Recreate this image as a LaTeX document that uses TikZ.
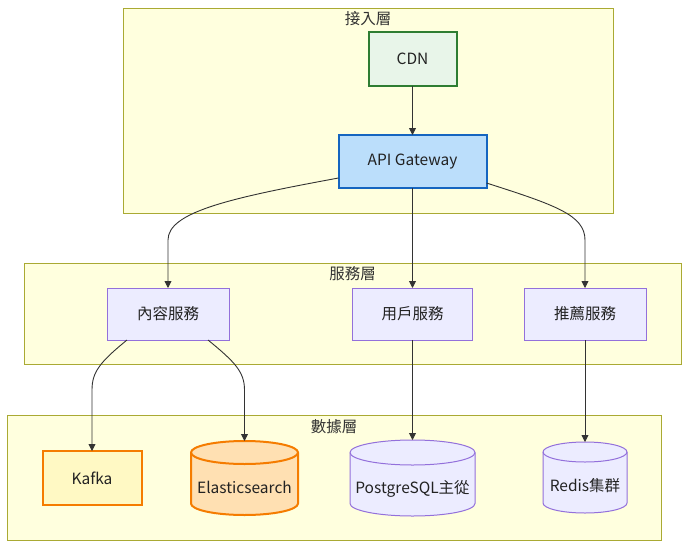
\documentclass[tikz,border=0pt]{standalone}
\usepackage{fontspec}
\setmainfont{Noto Sans CJK TC}
\usetikzlibrary{arrows.meta}
\definecolor{layerfill}{HTML}{FFFFDE}
\definecolor{layerdraw}{HTML}{AAAA33}
\definecolor{svcfill}{HTML}{ECECFF}
\definecolor{svcdraw}{HTML}{9370DB}
\definecolor{cdnfill}{HTML}{E8F5E9}
\definecolor{cdndraw}{HTML}{2E7D32}
\definecolor{apifill}{HTML}{BBDEFB}
\definecolor{apidraw}{HTML}{1565C0}
\definecolor{kafkafill}{HTML}{FFF9C4}
\definecolor{orangedraw}{HTML}{F57C00}
\definecolor{esfill}{HTML}{FFE0B2}
\definecolor{edgecol}{HTML}{333333}
\definecolor{txtcol}{HTML}{222222}
\newcommand\mycyl[8]{%
  \path[#7] ({#2-#5},{#3+#6}) -- ({#2-#5},{#4-#6})
    arc[start angle=180,end angle=360,x radius=#5pt,y radius=#6pt]
    -- ({#2+#5},{#3+#6})
    arc[start angle=0,end angle=180,x radius=#5pt,y radius=#6pt] -- cycle;
  \path[#7,fill=none] ({#2-#5},{#3+#6})
    arc[start angle=180,end angle=360,x radius=#5pt,y radius=#6pt];
  \node[inner sep=0pt,outer sep=0pt,minimum width={2*#5*1pt},minimum height={(#4-#3)*1pt}] (#1) at (#2,{(#3+#4)/2}) {};
  \node[lbl] at (#2,{(#3+#4)/2+#6*0.85}) {#8};
}
\begin{document}
\begin{tikzpicture}[x=1pt,y=-1pt,
  font=\fontsize{15.5}{18}\selectfont,
  layer/.style={fill=layerfill,draw=layerdraw,line width=1pt},
  layerlbl/.style={text=edgecol,inner sep=0pt},
  lbl/.style={text=txtcol,inner sep=0pt},
  box/.style={inner sep=0pt,outer sep=0pt,text=txtcol},
  svc/.style={box,fill=svcfill,draw=svcdraw,line width=1pt},
  cdnbox/.style={box,fill=cdnfill,draw=cdndraw,line width=2pt},
  apibox/.style={box,fill=apifill,draw=apidraw,line width=2pt},
  kafkabox/.style={box,fill=kafkafill,draw=orangedraw,line width=2pt},
  escyl/.style={fill=esfill,draw=orangedraw,line width=2pt},
  dbcyl/.style={fill=svcfill,draw=svcdraw,line width=1pt},
  edge/.style={draw=edgecol,line width=0.9pt,-{Triangle[length=7pt,width=7pt]}}
]
\useasboundingbox (0,0) rectangle (697,555);
% layers
\path[layer] (123,8) rectangle (613,213);
\node[layerlbl] (l1) at (368,19) {接入層};
\path[layer] (24,263) rectangle (681,364);
\node[layerlbl] (l2) at (352.5,274) {服務層};
\path[layer] (7,415) rectangle (661,540);
\node[layerlbl] (l3) at (334,427) {數據層};
% nodes
\node[cdnbox,minimum width=88pt,minimum height=54pt] (cdn) at (412.5,59) {CDN};
\node[apibox,minimum width=148pt,minimum height=53pt] (api) at (412.5,161.5) {API Gateway};
\node[svc,minimum width=122pt,minimum height=52pt] (content) at (168,314) {內容服務};
\node[svc,minimum width=120pt,minimum height=52pt] (user) at (412.5,314) {用戶服務};
\node[svc,minimum width=122pt,minimum height=52pt] (rec) at (585,314) {推薦服務};
\node[kafkabox,minimum width=99pt,minimum height=54pt] (kafka) at (92,478) {Kafka};
\mycyl{es}{244.5}{441}{515}{53.5}{11.5}{escyl}{Elasticsearch}
\mycyl{pg}{412.5}{440}{516}{62.5}{12.5}{dbcyl}{PostgreSQL主從}
\mycyl{redis}{585}{442}{513}{42}{10}{dbcyl}{Redis集群}
% edges
\draw[edge] (cdn) -- (api);
\draw[edge] ([yshift=-16.5pt]api.west) .. controls (230,198) and (168,212) .. (168,240) -- (content.north);
\draw[edge] (api.south) -- (user.north);
\draw[edge] ([yshift=-21.5pt]api.east) .. controls (555,205) and (585,215) .. (585,240) -- (rec.north);
\draw[edge] ([xshift=-41pt]content.south) .. controls (100,362) and (92,372) .. (92,390) -- (kafka.north);
\draw[edge] ([xshift=40pt]content.south) .. controls (235,362) and (244.5,372) .. (244.5,390) -- (es.north);
\draw[edge] (user.south) -- (pg.north);
\draw[edge] (rec.south) -- (redis.north);
\end{tikzpicture}
\end{document}
